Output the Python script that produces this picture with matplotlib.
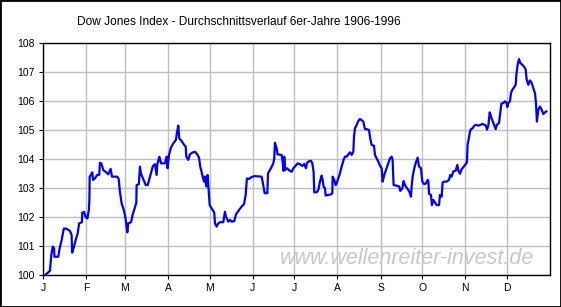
import matplotlib.pyplot as plt
from matplotlib.patches import Rectangle

# day of year / average index level (start of year = 100)
days = [
    2, 5, 6, 7, 8, 8.2, 11, 12, 13.4, 15, 16.6, 19.4, 20.6, 21, 22, 23.5, 25, 26,
    28, 28.3, 29.5, 30.7, 32, 33, 33.4, 33.6, 35, 35.5, 36, 37.4, 39, 40.5, 41,
    42, 43.4, 45.8, 47, 48.7, 49.7, 53.5, 54.5, 55.4, 56.6, 57.8, 59, 59.8, 60.7,
    61.4, 63.4, 64.6, 66, 67.2, 67.4, 69, 69.8, 70.5, 72.2, 74, 75.4, 77, 79,
    80.6, 81.8, 82.3, 83.8, 85, 87.8, 89, 89.7, 90.7, 92.1, 93.8, 95.7, 96.4,
    97.4, 98.1, 99.8, 101.7, 102.7, 103.2, 104.6, 105.8, 107.5, 109.4, 111.1,
    112.3, 113.2, 114.7, 115.9, 116.6, 117.6, 118.5, 119.5, 120, 121.4, 123.3,
    123.8, 125, 126.2, 127.4, 129.8, 131, 131.7, 133.4, 134.6, 135.8, 137.7,
    138.9, 141.1, 143, 144.7, 145.9, 146.8, 148.3, 150.2, 152.6, 155, 157.4,
    158.1, 159.6, 161.5, 162, 164.1, 165.8, 166.5, 167, 168.2, 168.9, 171.8,
    172.5, 173.2, 173.7, 174.4, 175.6, 177.8, 179, 180.2, 181.4, 183.3, 185,
    186.7, 188.1, 189.3, 190, 191, 192.9, 193.9, 194.8, 195.3, 197, 198.2,
    199.4, 200.6, 201.3, 202, 203, 203.5, 205.4, 207.3, 208.3, 208.5, 209.7,
    210.7, 211.4, 212.6, 213.8, 215, 216.4, 217.4, 218.6, 219.8, 221, 222.2,
    223.4, 223.9, 224.6, 225.8, 227, 228.2, 229.4, 230.6, 231.8, 233, 234.7,
    235.6, 236.6, 238.3, 239, 240.2, 241.4, 242.6, 243.8, 244.5, 245.7, 246.9,
    248.6, 249.8, 251, 251.7, 252.4, 254.6, 256.5, 257.2, 258.7, 259.6, 260.6,
    261.8, 263, 264.2, 264.9, 265.4, 266.1, 267.3, 268.5, 269.7, 270.7, 272.1,
    273.1, 274.5, 275.7, 276.9, 277.4, 277.9, 279.3, 280, 281, 282.2, 283.4,
    285.1, 285.8, 287, 287.7, 288.9, 290.6, 292.3, 293.2, 294.2, 295.4, 297.1,
    298.3, 299, 300.2, 301.4, 303.3, 305.2, 305.7, 306.4, 307.4, 308.1, 309.3,
    310.5, 311.7, 313.4, 315.1, 316.3, 317.7, 318.9, 319.6, 320.6, 321.6,
    322.5, 323.5, 324.7, 325.9, 326.8, 328.3, 329.2, 330, 331.4, 332.6, 333.6,
    334.3, 335, 336.2, 336.9, 337.9, 339.3, 340.3, 340.8, 341.7, 342.7, 343.6,
    345.1, 346.5, 347.5, 348.2, 349.4, 350.6, 351.8, 353, 354.2, 354.9, 355.6,
    356.6, 357.8, 359, 360.2, 361.4, 362.4,
]
values = [
    100.02, 100.14, 100.7, 100.98, 100.92, 100.63, 100.63, 100.92, 101.2, 101.6,
    101.6, 101.52, 101.38, 100.77, 100.92, 101.2, 101.44, 101.78, 101.82, 102.15,
    102.18, 102.0, 101.95, 102.24, 102.59, 103.39, 103.5, 103.54, 103.28, 103.33,
    103.45, 103.45, 103.87, 103.85, 103.62, 103.53, 103.47, 103.66, 103.39,
    103.39, 103.31, 102.87, 102.47, 102.3, 102.07, 101.82, 101.47, 101.78,
    101.82, 102.09, 102.3, 102.5, 103.1, 103.13, 103.74, 103.5, 103.31, 103.1,
    103.1, 103.39, 103.74, 103.82, 103.45, 103.82, 104.08, 103.85, 103.85,
    104.08, 103.68, 104.14, 104.39, 104.54, 104.66, 104.89, 105.15, 104.71,
    104.62, 104.48, 104.43, 104.08, 103.97, 104.16, 104.22, 104.25, 104.16,
    104.05, 103.74, 103.45, 103.22, 103.39, 103.05, 103.45, 102.76, 102.41,
    102.3, 102.15, 101.78, 101.67, 101.78, 101.82, 101.82, 102.18, 102.01,
    101.84, 101.9, 101.84, 101.86, 102.09, 102.24, 102.36, 102.44, 102.76,
    103.33, 103.31, 103.38, 103.41, 103.4, 103.39, 103.22, 102.82, 102.82,
    103.51, 103.68, 103.85, 104.02, 104.56, 104.37, 104.16, 104.14, 103.91,
    103.59, 104.08, 103.62, 103.68, 103.59, 103.56, 103.68, 103.74, 103.85,
    103.82, 103.76, 103.83, 103.68, 103.85, 103.91, 103.94, 103.85, 103.56,
    102.85, 102.85, 102.93, 103.22, 103.43, 103.28, 103.05, 102.99, 102.74,
    102.76, 102.78, 102.82, 103.39, 103.28, 103.1, 103.16, 103.33, 103.51,
    103.74, 103.97, 104.08, 104.08, 104.16, 104.23, 104.14, 104.25, 104.77,
    105.06, 105.17, 105.31, 105.38, 105.34, 105.29, 105.03, 105.03, 105.0,
    104.71, 104.48, 104.46, 104.14, 104.02, 103.91, 103.77, 103.68, 103.22,
    103.45, 103.62, 103.85, 104.02, 104.08, 103.97, 103.1, 103.08, 103.05,
    102.9, 102.99, 103.24, 103.1, 103.01, 102.93, 102.82, 102.7, 103.05,
    103.39, 103.68, 103.89, 104.05, 103.74, 103.68, 103.22, 103.13, 103.16,
    103.28, 103.26, 102.8, 102.76, 102.41, 102.59, 102.5, 102.41, 102.41,
    102.76, 102.7, 103.19, 103.22, 103.22, 103.28, 103.45, 103.39, 103.57,
    103.6, 103.8, 103.6, 103.49, 103.65, 103.76, 103.88, 104.49, 104.66,
    104.95, 105.03, 105.06, 105.15, 105.18, 105.15, 105.18, 105.21, 105.18,
    105.15, 105.01, 105.15, 105.61, 105.47, 105.33, 105.18, 105.03, 105.18,
    105.24, 105.58, 105.91, 105.93, 105.99, 105.95, 105.79, 105.93, 105.99,
    106.27, 106.39, 106.48, 106.56, 106.91, 107.25, 107.45, 107.31, 107.25,
    107.17, 107.08, 106.74, 106.56, 106.71, 106.62, 106.45, 106.27, 105.93,
    105.29, 105.7, 105.81, 105.7, 105.55, 105.61, 105.64,
]

month_starts = [0, 31, 59, 90, 120, 151, 181, 212, 243, 273, 304, 334]
month_labels = ["J", "F", "M", "A", "M", "J", "J", "A", "S", "O", "N", "D"]
y_ticks = [100, 101, 102, 103, 104, 105, 106, 107, 108]

plt.rcParams['font.family'] = ['Liberation Sans', 'DejaVu Sans']

fig = plt.figure(figsize=(5.61, 3.07), dpi=100, facecolor="white")
ax = fig.add_axes([43 / 561, 32 / 307, 507 / 561, 232 / 307])

ax.plot(days, values, color="#0000ff", linewidth=1.6)

ax.set_xlim(0, 365)
ax.set_ylim(100, 108)
ax.set_xticks(month_starts)
ax.set_xticklabels(month_labels)
ax.set_yticks(y_ticks)
ax.tick_params(labelsize=7.5, length=3, width=0.8, direction="out", pad=3)
ax.grid(True, color="#c0c0c0", linewidth=1)
ax.set_axisbelow(True)
for sp in ax.spines.values():
    sp.set_linewidth(1)
    sp.set_color("black")

ax.text(0.718, 0.07, "www.wellenreiter-invest.de", transform=ax.transAxes,
        ha="center", va="center", fontsize=15.5, style="italic",
        color="#c8c8c8", zorder=1)

fig.text(239 / 561, 1 - 22 / 307,
         "Dow Jones Index - Durchschnittsverlauf 6er-Jahre 1906-1996",
         ha="center", va="center", fontsize=8.6)

fig.patches.append(Rectangle((0, 0), 1, 1, transform=fig.transFigure,
                             fill=False, edgecolor="black", linewidth=2))

fig.savefig("out.png", dpi=100)
